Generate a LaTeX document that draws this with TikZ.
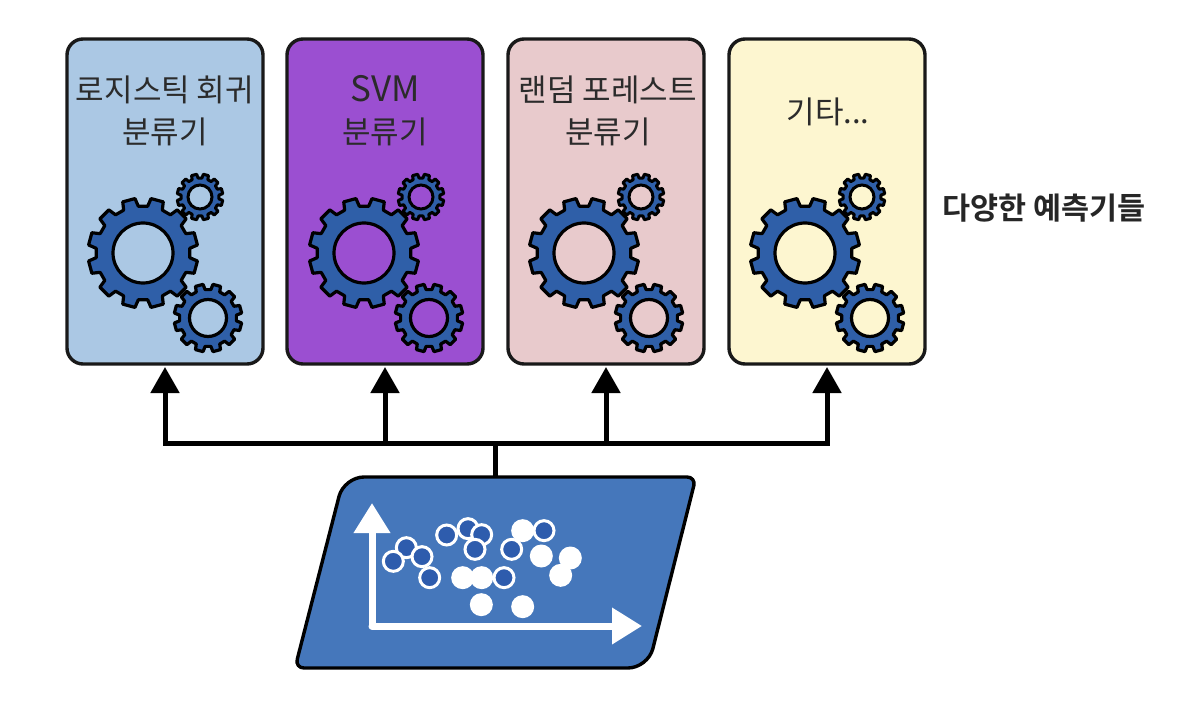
\documentclass[tikz,border=0pt]{standalone}
\usepackage{fontspec}
\usetikzlibrary{arrows.meta}
\newfontfamily\krfont{Noto Sans CJK KR}
\newfontfamily\krbold{Noto Sans CJK KR Bold}
\definecolor{gearblue}{HTML}{2F5FA8}
\definecolor{plate}{HTML}{4577BB}
\definecolor{dotblue}{HTML}{2E5CAD}
\definecolor{pa}{HTML}{ABC8E4}
\definecolor{pb}{HTML}{9B4FD1}
\definecolor{pc}{HTML}{E8CACC}
\definecolor{pd}{HTML}{FDF6D0}
\definecolor{txt}{HTML}{2B2B2B}
\tikzset{
  x=1pt,y=-1pt,
  panel/.style={draw=black!90,line width=3.4pt,rounded corners=16pt,minimum width=196pt,minimum height=325pt,inner sep=0pt,outer sep=0pt,anchor=north west},
  conn/.style={line width=5pt,draw=black},
  connarrow/.style={conn,-{Triangle[width=28pt,length=26pt]},shorten >=3pt},
  label/.style={font=\krfont\fontsize{31}{42}\selectfont,text=txt,align=center,inner sep=0pt},
  axis/.style={line width=7pt,draw=white,-{Triangle[width=35pt,length=30pt]}},
  opendot/.style={circle,draw=white,line width=3pt,fill=dotblue,minimum size=20pt,inner sep=0pt},
  filldot/.style={circle,fill=white,minimum size=23pt,inner sep=0pt},
}
% centre x, centre y, outer r, root r, hole r, teeth, rotation, line width, panel colour
\newcommand{\gearshape}[9]{%
  \pgfmathsetmacro{\stepang}{360/#6}%
  \draw[fill=gearblue,draw=black,line width=#8pt,line join=round]
    \foreach \k in {1,...,#6}{
      \pgfextra{\pgfmathsetmacro{\aa}{#7+\k*\stepang-0.31*\stepang}%
      \pgfmathsetmacro{\ab}{#7+\k*\stepang-0.22*\stepang}%
      \pgfmathsetmacro{\ac}{#7+\k*\stepang+0.22*\stepang}%
      \pgfmathsetmacro{\ad}{#7+\k*\stepang+0.31*\stepang}}
      \ifnum\k=1 ({#1+#4*cos(\aa)},{#2+#4*sin(\aa)}) \else -- ({#1+#4*cos(\aa)},{#2+#4*sin(\aa)}) \fi
      -- ({#1+#3*cos(\ab)},{#2+#3*sin(\ab)})
      -- ({#1+#3*cos(\ac)},{#2+#3*sin(\ac)})
      -- ({#1+#4*cos(\ad)},{#2+#4*sin(\ad)})
    } -- cycle;
  \draw[fill=#9,draw=black,line width=#8pt] (#1,#2) circle[radius=#5];
}
\newcommand{\gearset}[2]{%
  \gearshape{#1+143}{253}{55}{47}{30}{12}{15}{3.2}{#2}
  \gearshape{#1+200}{197}{23}{19}{12}{12}{15}{3}{#2}
  \gearshape{#1+208}{318}{34}{28.5}{18.5}{12}{15}{3.2}{#2}
}
\begin{document}
\begin{tikzpicture}
\useasboundingbox (0,0) rectangle (1202,722);
\node[panel,fill=pa] (p1) at (67,39) {};
\node[panel,fill=pb] (p2) at (287,39) {};
\node[panel,fill=pc] (p3) at (508,39) {};
\node[panel,fill=pd] (p4) at (729,39) {};
\gearset{0}{pa}
\gearset{221}{pb}
\gearset{441}{pc}
\gearset{662}{pd}
\node[label] (t1) at (165,111) {로지스틱 회귀\\분류기};
\node[label] (t2) at (385,111) {{\fontsize{35}{42}\selectfont SVM}\\분류기};
\node[label] (t3) at (608,111) {랜덤 포레스트\\분류기};
\node[label] (t4) at (828,112) {기타...};
\node[font=\krbold\fontsize{30.5}{34}\selectfont,text=black!85,inner sep=0pt] (t5) at (1044,208) {다양한 예측기들};
% data plate
\draw[fill=plate,draw=black,line width=3.4pt,line join=round]
  (520,477) [rounded corners=9pt] -- (696,477) [rounded corners=20pt] -- (648,668)
  [rounded corners=9pt] -- (295,668) [rounded corners=20pt] -- (344,477) -- cycle;
\coordinate (plateTop) at (495,477);
\coordinate (hub) at (495,443);
\draw[conn] (plateTop) -- (hub);
\draw[connarrow] (hub) -| (p1.south);
\draw[connarrow] (hub) -| (p2.south);
\draw[connarrow] (hub) -| (p3.south);
\draw[connarrow] (hub) -| (p4.south);
% axes
\coordinate (orig) at (372,626);
\coordinate (ytop) at (372,503);
\coordinate (xend) at (642,626);
\draw[axis,line cap=round] (orig) -- (ytop);
\draw[axis,line cap=round] (orig) -- (xend);
% data points
\foreach \i/\x/\y in {1/698/182,2/754/258,3/841/264,4/812/316,5/518/323,6/575/323,7/574/404,8/698/410}
  \node[filldot] (f\i) at ({290+\x/3},{470+\y/3}) {};
\foreach \i/\x/\y in {1/349/233,2/310/274,3/396/260,4/419/323,5/470/195,6/534/176,7/575/194,8/555/238,9/665/238,10/762/182,11/642/323}
  \node[opendot] (o\i) at ({290+\x/3},{470+\y/3}) {};
\end{tikzpicture}
\end{document}
